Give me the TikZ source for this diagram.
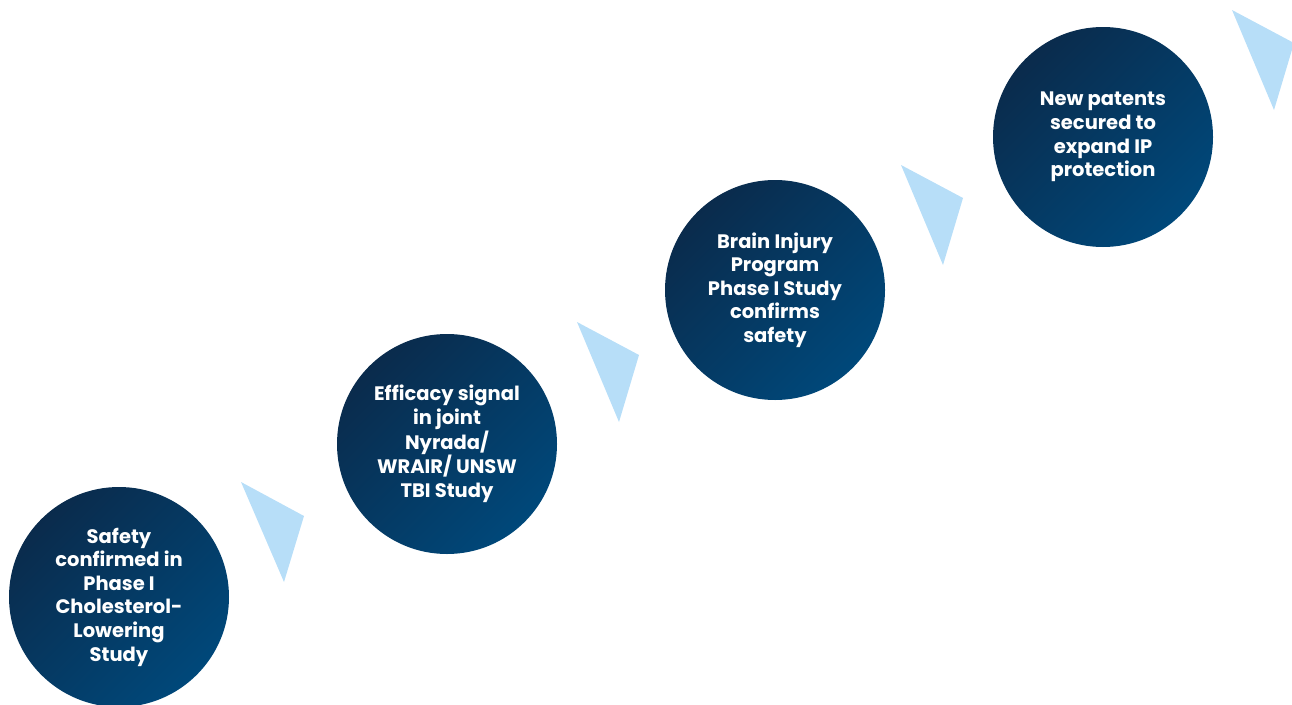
\documentclass[tikz,border=0pt]{standalone}
\usepackage{fontspec}
\setmainfont{Poppins}
\definecolor{navydark}{HTML}{0A2B4C}
\definecolor{navylight}{HTML}{00487A}
\definecolor{tri}{HTML}{B7DEF8}
\begin{document}
\begin{tikzpicture}[x=1pt,y=-1pt,
  step circle/.style={circle, minimum size=220pt, inner sep=0pt,
    top color=navydark, bottom color=navylight, shading angle=45,
    text=white, align=center, font=\fontsize{19.5}{23.6}\selectfont\bfseries},
  tri shape/.style={fill=tri, draw=none}]
\useasboundingbox (0,0) rectangle (1292,704);
\begin{scope}
\clip (0,0) rectangle (1292,704);
\node[step circle] (c1) at (119,597) {Safety\\confirmed in\\Phase I\\Cholesterol-\\Lowering\\Study};
\node[step circle] (c2) at (447,444) {Efficacy signal\\in joint\\Nyrada/\\WRAIR/ UNSW\\TBI Study};
\node[step circle] (c3) at (775,290) {Brain Injury\\Program\\Phase I Study\\confirms\\safety};
\node[step circle] (c4) at (1103,137) {New patents\\secured to\\expand IP\\protection};
\fill[tri shape] (241,482) -- (304,516) -- (284,582) -- cycle;
\fill[tri shape] (577,322) -- (639,355) -- (619,422) -- cycle;
\fill[tri shape] (901,165) -- (963,198) -- (943,265) -- cycle;
\fill[tri shape] (1232,10) -- (1294,43) -- (1274,110) -- cycle;
\end{scope}
\end{tikzpicture}
\end{document}
